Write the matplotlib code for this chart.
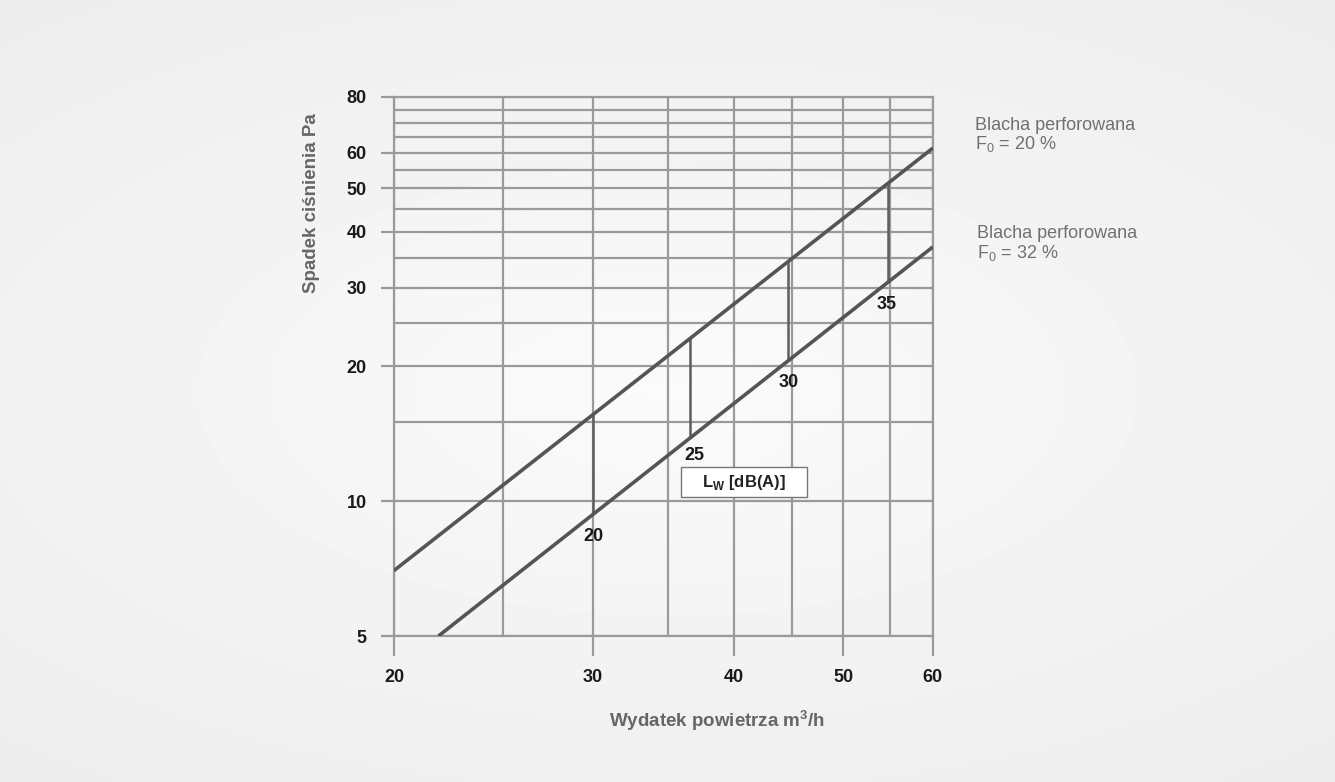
import numpy as np
import matplotlib
matplotlib.use("Agg")
import matplotlib.pyplot as plt
from matplotlib.patches import Rectangle
from matplotlib.ticker import FixedLocator, NullFormatter

plt.rcParams['font.family'] = ['Liberation Sans', 'DejaVu Sans']

# Pressure drop lines (airflow m3/h, pressure drop Pa)
q_f20 = [20.0, 60.0]
dp_f20 = [7.0, 61.5]
q_f32 = [21.9, 60.0]
dp_f32 = [5.0, 37.0]

# Sound power markers: airflow, top/bottom of the vertical segment, level
lw_q = [30.0, 36.6, 44.7, 54.7]
lw_top = [15.6, 23.2, 34.4, 51.3]
lw_bottom = [9.4, 13.9, 20.7, 30.9]
lw_levels = ['20', '25', '30', '35']

x_major = [20, 30, 40, 50, 60]
x_minor = [25, 35, 45, 55]
y_major = [5, 10, 20, 30, 40, 50, 60, 80]
y_minor = [15, 25, 35, 45, 55, 65, 70, 75]

grid_col = '#9a9a9a'
line_col = '#555555'

fig = plt.figure(figsize=(13.35, 7.82), dpi=100)

# soft radial background
bg = fig.add_axes([0, 0, 1, 1], zorder=-10)
yy, xx = np.mgrid[-1:1:200j, -1:1:340j]
r = np.sqrt((xx * 0.9) ** 2 + (yy * 1.1) ** 2)
bg.imshow(0.982 - 0.055 * np.clip(r, 0, 1.4) / 1.4, cmap='gray', vmin=0, vmax=1,
          aspect='auto', extent=[0, 1, 0, 1], interpolation='bicubic')
bg.axis('off')

ax = fig.add_axes([0.2951, 0.1867, 0.4037, 0.6893])
ax.patch.set_alpha(0)
ax.set_xscale('log')
ax.set_yscale('log')
ax.set_xlim(20, 60)
ax.set_ylim(5, 80)

ax.xaxis.set_major_locator(FixedLocator(x_major))
ax.xaxis.set_minor_locator(FixedLocator(x_minor))
ax.yaxis.set_major_locator(FixedLocator(y_major))
ax.yaxis.set_minor_locator(FixedLocator(y_minor))
ax.set_xticklabels([str(v) for v in x_major])
ax.set_yticklabels([str(v) for v in y_major])
ax.xaxis.set_minor_formatter(NullFormatter())
ax.yaxis.set_minor_formatter(NullFormatter())

ax.grid(True, which='both', color=grid_col, linewidth=1.6)
ax.set_axisbelow(True)
for s in ax.spines.values():
    s.set_visible(False)

ax.tick_params(axis='x', which='major', length=14.5, width=1.6, color=grid_col,
               pad=9, labelsize=13)
ax.tick_params(axis='y', which='major', length=9.5, width=1.6, color=grid_col,
               pad=10, labelsize=13)
ax.tick_params(which='minor', length=0)
for lab in ax.get_xticklabels() + ax.get_yticklabels():
    lab.set_fontweight('bold')
    lab.set_color('#1a1a1a')

# frame = grid lines at the limits
ax.axhline(80, color=grid_col, lw=1.6, clip_on=False, zorder=1)
ax.axvline(60, color=grid_col, lw=1.6, clip_on=False, zorder=1)
ax.axhline(5, color=grid_col, lw=1.6, clip_on=False, zorder=1)
ax.axvline(20, color=grid_col, lw=1.6, clip_on=False, zorder=1)

ax.plot(q_f20, dp_f20, color=line_col, lw=2.6, solid_capstyle='butt', zorder=3)
ax.plot(q_f32, dp_f32, color=line_col, lw=2.6, solid_capstyle='butt', zorder=3)

ax.vlines(lw_q, lw_bottom, lw_top, color='#5e5e5e', lw=1.8, zorder=2)
label_offsets = [(0.5, -16.5), (3, -13), (0, -16), (-0.5, -16.5)]
for q, b, lab, off in zip(lw_q, lw_bottom, lw_levels, label_offsets):
    ax.annotate(lab, (q, b), xytext=off, textcoords='offset points',
                ha='center', va='center', fontsize=13, fontweight='bold',
                color='#1a1a1a')

# L_W legend box
ax.add_patch(Rectangle((0.5325, 0.258), 0.2335, 0.0555, transform=ax.transAxes,
                       fc='white', ec='#777777', lw=1.0, zorder=4))
ax.text(0.649, 0.2855, r'L$_\mathregular{W}$ [dB(A)]', transform=ax.transAxes,
        ha='center', va='center', fontsize=12, fontweight='bold', color='#222222',
        zorder=5)

fig.text(0.233, 0.740, 'Spadek ciśnienia Pa', rotation=90, ha='center', va='center',
         fontsize=13.5, fontweight='bold', color='#666666')
fig.text(0.5375, 0.079, r'Wydatek powietrza m$^\mathregular{3}$/h', ha='center', va='center',
         fontsize=13.5, fontweight='bold', color='#666666')

fig.text(0.730, 0.840, 'Blacha perforowana', ha='left', va='center',
         fontsize=13, color='#707070')
fig.text(0.730, 0.816, r'F$_\mathregular{0}$ = 20 %', ha='left', va='center',
         fontsize=13, color='#707070')
fig.text(0.732, 0.702, 'Blacha perforowana', ha='left', va='center',
         fontsize=13, color='#707070')
fig.text(0.732, 0.676, r'F$_\mathregular{0}$ = 32 %', ha='left', va='center',
         fontsize=13, color='#707070')

fig.savefig('out.png', dpi=100)
